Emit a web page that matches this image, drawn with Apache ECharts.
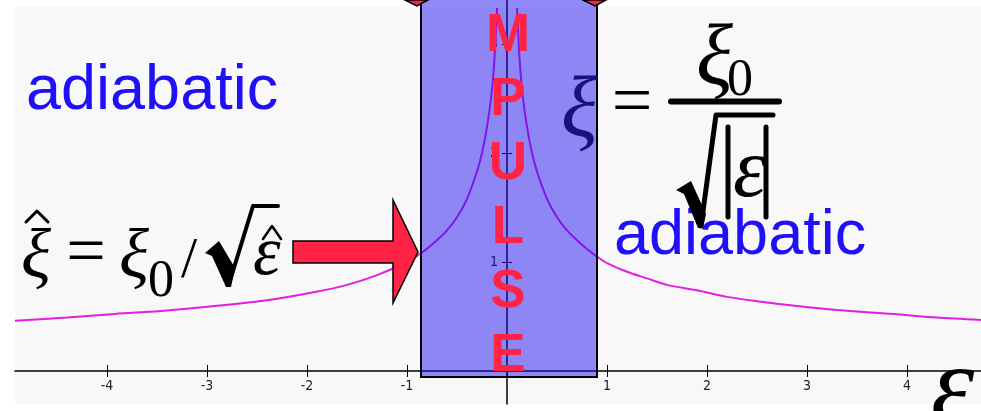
<!DOCTYPE html>
<html>
<head>
<meta charset="utf-8">
<script src="https://cdn.jsdelivr.net/npm/echarts@6/dist/echarts.min.js"></script>
<style>
  html, body { margin: 0; padding: 0; background: #fff; }
  #chart { width: 981px; height: 411px; }
</style>
</head>
<body>
<div id="chart"></div>
<script>
// values: xi against epsilon, two branches
const epsLeft = [-4.92, -4.4, -3.92, -3.4, -2.92, -2.4, -1.92, -1.6, -1.3, -1.0, -0.86, -0.7, -0.6, -0.5, -0.4, -0.3, -0.25, -0.2, -0.16, -0.13, -0.1];
const xiLeft = [0.46, 0.49, 0.523, 0.555, 0.596, 0.65, 0.725, 0.79, 0.88, 1.0, 1.08, 1.2, 1.29, 1.41, 1.58, 1.83, 2.0, 2.24, 2.5, 2.8, 3.33];
const epsRight = [0.1, 0.13, 0.16, 0.2, 0.25, 0.3, 0.4, 0.5, 0.6, 0.7, 0.8, 0.9, 1.0, 1.2, 1.4, 1.6, 1.9, 2.2, 2.5, 2.9, 3.3, 3.9, 4.3, 4.74];
const xiRight = [3.33, 2.8, 2.5, 2.24, 2.0, 1.83, 1.58, 1.41, 1.29, 1.2, 1.12, 1.05, 0.99, 0.91, 0.85, 0.79, 0.74, 0.68, 0.64, 0.596, 0.56, 0.52, 0.49, 0.468];

// impulse zone [eps from, eps to, xi bottom, xi top]
const impulseZone = [-0.86, 0.90, -0.055, 3.45];

const xTicks = [-4, -3, -2, -1, 0, 1, 2, 3, 4];
const xLabels = [-4, -3, -2, -1, 1, 2, 3, 4];
const yTicks = [1, 2, 3];
const yLabels = [1, 2, 3];

const xRange = [-4.92, 4.74];
const yRange = [-0.3028, 3.4037];

const serif = "'Liberation Serif', 'DejaVu Serif', serif";
const sans = "'Liberation Sans', Arial, sans-serif";
const narrow = "'Liberation Sans Narrow', 'DejaVu Sans Condensed', sans-serif";

// plot box, the axes cross at the origin inside it
const gridBox = { left: 15, top: 0, width: 966, height: 404 };
const xAxisShift = -(0 - yRange[0]) / (yRange[1] - yRange[0]) * gridBox.height;
const yAxisShift = -(0 - xRange[0]) / (xRange[1] - xRange[0]) * gridBox.width;

let chart = echarts.init(document.getElementById('chart'), null, { renderer: 'canvas' });

const baseX = {
  type: 'value', min: xRange[0], max: xRange[1], position: 'bottom', offset: xAxisShift,
  splitLine: { show: false }
};
const baseY = {
  type: 'value', min: yRange[0], max: yRange[1], position: 'left', offset: yAxisShift,
  splitLine: { show: false }
};

const txt = (text, x, y, font, fill, align) => ({
  type: 'text', x: x, y: y, z: 100,
  style: { text: text, font: font, fill: fill || '#000', textAlign: align || 'left', textVerticalAlign: 'middle' }
});
const poly = (points, fill) => ({
  type: 'polygon', z: 100, shape: { points: points },
  style: { fill: fill || '#000', stroke: fill ? '#000' : null, lineWidth: fill ? 1.5 : 0 }
});
const line = (points, w) => ({
  type: 'polyline', z: 100, shape: { points: points },
  style: { stroke: '#000', lineWidth: w, fill: null, lineCap: 'round', lineJoin: 'round' }
});

let option = {
  animation: false,
  grid: Object.assign({ containLabel: false, outerBoundsMode: 'none' }, gridBox),
  xAxis: [
    Object.assign({}, baseX, {
      axisLine: { onZero: false, lineStyle: { color: '#000', width: 1.5 } },
      axisTick: { customValues: xTicks, length: 6, lineStyle: { color: '#000' } },
      axisLabel: { customValues: xLabels, margin: 8, color: '#222', fontSize: 14, fontFamily: narrow }
    }),
    Object.assign({}, baseX, {
      axisLine: { show: false, onZero: false },
      axisTick: { customValues: xTicks, inside: true, length: 6, lineStyle: { color: '#000' } },
      axisLabel: { show: false }
    })
  ],
  yAxis: [
    Object.assign({}, baseY, {
      axisLine: { show: true, onZero: false, lineStyle: { color: '#000', width: 1.5 } },
      axisTick: { show: true, customValues: yTicks, length: 5, lineStyle: { color: '#000' } },
      axisLabel: { customValues: yLabels, margin: 9, color: '#222', fontSize: 14, fontFamily: narrow }
    }),
    Object.assign({}, baseY, {
      axisLine: { show: false, onZero: false },
      axisTick: { show: true, customValues: yTicks, inside: true, length: 5, lineStyle: { color: '#000' } },
      axisLabel: { show: false }
    })
  ],
  series: [
    {
      type: 'line',
      data: epsLeft.map((e, i) => [e, xiLeft[i]]),
      smooth: 0.3,
      symbol: 'none',
      lineStyle: { color: '#e020e0', width: 2 },
      z: 2
    },
    {
      type: 'line',
      data: epsRight.map((e, i) => [e, xiRight[i]]),
      smooth: 0.3,
      symbol: 'none',
      lineStyle: { color: '#e020e0', width: 2 },
      z: 2
    },
    {
      type: 'custom',
      z: 5,
      data: [impulseZone],
      renderItem: (params, api) => {
        const p0 = api.coord([api.value(0), api.value(3)]);
        const p1 = api.coord([api.value(1), api.value(2)]);
        return {
          type: 'rect',
          shape: { x: p0[0], y: p0[1], width: p1[0] - p0[0], height: p1[1] - p0[1] },
          style: { fill: 'rgba(30,10,245,0.48)', stroke: '#000', lineWidth: 2 }
        };
      }
    }
  ],
  graphic: [
    { type: 'rect', z: -10, shape: { x: 15, y: 7, width: 966, height: 397 }, style: { fill: '#f8f8f8' } },

    // IMPULSE written downwards through the zone
    {
      type: 'text', x: 508, y: 164, z: 100,
      style: {
        text: 'IMPULSE'.split('').join('\n'), font: "bold 53px " + sans, fill: '#ff2346',
        textAlign: 'center', textVerticalAlign: 'middle', lineHeight: 64
      }
    },

    txt('adiabatic', 26, 92, '63px ' + sans, '#2010f5'),
    txt('adiabatic', 614, 237, '63px ' + sans, '#2010f5'),

    // left formula  ξ^ = ξ0 / √ε^
    txt('ξ', 21, 259, 'italic 70px ' + serif),
    line([[26, 222], [37, 211], [48, 222]], 3),
    txt('=', 86, 256, '70px ' + serif, '#000', 'center'),
    txt('ξ', 119, 259, 'italic 70px ' + serif),
    txt('0', 148, 282, '52px ' + serif),
    txt('/', 189, 262, '58px ' + serif, '#000', 'center'),
    poly([[205, 253], [219, 241], [235, 268], [231, 287], [226, 287], [212, 256]]),
    line([[229, 284], [253, 206], [278, 206]], 4),
    txt('ε', 253, 256, 'italic 70px ' + serif),
    line([[263, 239], [272, 226], [281, 239]], 2.5),

    // right formula  ξ = ξ0 / √|ε|
    txt('ξ', 561, 113, 'italic 86px ' + serif, '#14147a'),
    txt('=', 632, 105, '72px ' + serif, '#000', 'center'),
    txt('ξ', 696, 61, 'italic 86px ' + serif),
    txt('0', 727, 81, '52px ' + serif),
    line([[671, 101.5], [779, 101.5]], 6),
    poly([[676, 190], [691, 181], [706, 214], [703, 228], [698, 228], [684, 194]]),
    line([[701, 226], [716, 115], [773, 115]], 5),
    line([[728, 127], [728, 217]], 5),
    line([[766, 127], [766, 217]], 5),
    txt('ε', 733, 174, 'italic 84px ' + serif),

    // red arrow pointing into the zone
    poly([[293, 241], [393, 241], [393, 200], [418, 252], [393, 303], [393, 263], [293, 263]], '#ff2346'),
    // tips of the arrows coming from above
    poly([[405, 0], [417, 6], [428, 0]], '#ff2346'),
    poly([[583, 0], [595, 6], [606, 0]], '#ff2346'),

    // axis name
    txt('ε', 931, 392, 'italic 110px ' + serif)
  ]
};

if (option && typeof option === 'object') {
  chart.setOption(option);
}
window.addEventListener('resize', chart.resize);
</script>
</body>
</html>
